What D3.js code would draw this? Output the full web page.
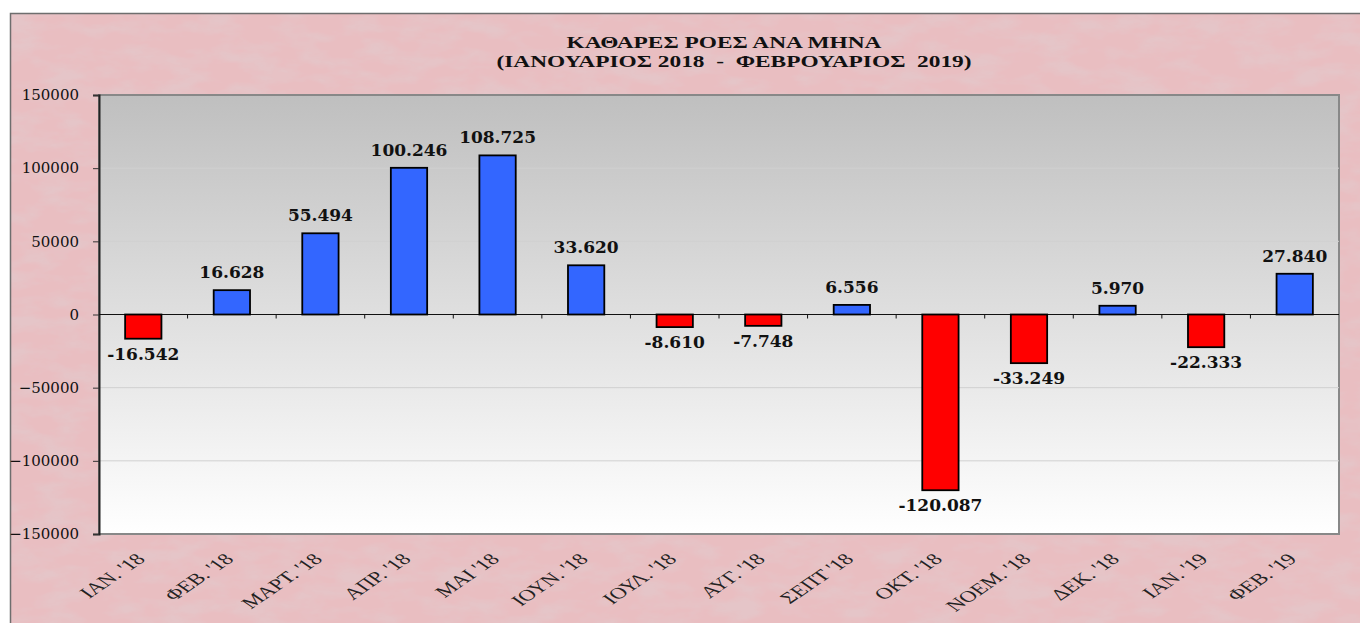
<!DOCTYPE html>
<html>
  <head>
    <meta charset="utf-8">
    <style>
      body { margin: 0; background: #fff; }
    </style>
  </head>
  <body>
    <script src="https://d3js.org/d3.v7.min.js" charset="utf-8"></script>
    <script>
      var months = ["ΙΑΝ. '18", "ΦΕΒ. '18", "ΜΑΡΤ. '18", "ΑΠΡ. '18", "ΜΑΙ '18",
                    "ΙΟΥΝ. '18", "ΙΟΥΛ. '18", "ΑΥΓ. '18", "ΣΕΠΤ '18", "ΟΚΤ. '18",
                    "ΝΟΕΜ. '18", "ΔΕΚ. '18", "ΙΑΝ. '19", "ΦΕΒ. '19"];
      var flows = [-16542, 16628, 55494, 100246, 108725, 33620, -8610,
                   -7748, 6556, -120087, -33249, 5970, -22333, 27840];
      var yTicks = [-150000, -100000, -50000, 0, 50000, 100000, 150000];
      var titleLines = ["ΚΑΘΑΡΕΣ ΡΟΕΣ ΑΝΑ ΜΗΝΑ",
                        "(ΙΑΝΟΥΑΡΙΟΣ 2018  -  ΦΕΒΡΟΥΑΡΙΟΣ  2019)"];

      var W = 1360, H = 623;
      var pL = 99, pR = 1339, pT = 95, pB = 534;
      var stretch = 1.46;   // the original sheet is drawn wider than tall

      var svg = d3.select('body').append('svg')
                  .attr('width', W).attr('height', H);
      var defs = svg.append('defs');

      // pinkish paper texture
      var f = defs.append('filter').attr('id', 'paper')
                  .attr('x', 0).attr('y', 0).attr('width', '100%').attr('height', '100%');
      f.append('feTurbulence').attr('type', 'fractalNoise')
       .attr('baseFrequency', '0.025 0.06').attr('numOctaves', 4).attr('seed', 11)
       .attr('result', 'noise');
      f.append('feColorMatrix').attr('in', 'noise').attr('type', 'matrix')
       .attr('values', '0 0 0 0 0.78  0 0 0 0 0.56  0 0 0 0 0.58  0 0 0 -2.6 1.55')
       .attr('result', 'tint');
      f.append('feComposite').attr('in', 'tint').attr('in2', 'SourceGraphic')
       .attr('operator', 'atop');

      var grad = defs.append('linearGradient').attr('id', 'plotbg')
                     .attr('x1', 0).attr('y1', 0).attr('x2', 0).attr('y2', 1);
      grad.append('stop').attr('offset', '0%').attr('stop-color', '#bfbfbf');
      grad.append('stop').attr('offset', '100%').attr('stop-color', '#ffffff');

      svg.append('rect')
         .attr('x', 10).attr('y', 13).attr('width', W - 10).attr('height', H - 13)
         .attr('fill', '#e9bec1').attr('filter', 'url(#paper)');
      svg.append('path')
         .attr('d', 'M10.5,' + H + 'V13.5H' + W)
         .attr('fill', 'none').attr('stroke', '#6e6e6e').attr('stroke-width', 1.5);

      var x = d3.scaleBand().domain(months).range([pL, pR]).paddingInner(0.59).paddingOuter(0.295);
      var y = d3.scaleLinear().domain([-150000, 150000]).range([pB, pT]);

      svg.append('rect')
         .attr('x', pL).attr('y', pT)
         .attr('width', pR - pL).attr('height', pB - pT)
         .attr('fill', 'url(#plotbg)')
         .attr('stroke', '#888').attr('stroke-width', 2);

      // gridlines
      svg.append('g').selectAll('line')
         .data(yTicks.filter(function (d) { return Math.abs(d) !== 150000 && d !== 0; }))
         .enter().append('line')
         .attr('x1', pL).attr('x2', pR)
         .attr('y1', function (d) { return y(d); })
         .attr('y2', function (d) { return y(d); })
         .attr('stroke', '#d0d0d0').attr('stroke-width', 1);

      // y axis
      var yAxis = svg.append('g').attr('transform', 'translate(' + pL + ',0)')
                     .call(d3.axisLeft(y).tickValues(yTicks).tickSize(6).tickPadding(14)
                             .tickFormat(d3.format('d')));
      yAxis.select('.domain').attr('stroke', '#222').attr('stroke-width', 2);
      yAxis.selectAll('.tick line').attr('stroke', '#333');
      yAxis.selectAll('text')
           .style('font', '15px "DejaVu Serif", serif').attr('fill', '#111');

      // zero line with category ticks
      svg.append('line')
         .attr('x1', pL).attr('x2', pR)
         .attr('y1', y(0)).attr('y2', y(0))
         .attr('stroke', '#111').attr('stroke-width', 1.2);
      var step = x.step();
      svg.append('g').selectAll('line')
         .data(d3.range(1, months.length))
         .enter().append('line')
         .attr('x1', function (i) { return pL + i * step; })
         .attr('x2', function (i) { return pL + i * step; })
         .attr('y1', y(0)).attr('y2', y(0) + 4)
         .attr('stroke', '#111').attr('stroke-width', 1);

      // bars
      svg.append('g').selectAll('rect')
         .data(flows).enter().append('rect')
         .attr('x', function (d, i) { return x(months[i]); })
         .attr('width', x.bandwidth())
         .attr('y', function (d) { return y(Math.max(0, d)); })
         .attr('height', function (d) { return Math.abs(y(d) - y(0)); })
         .attr('fill', function (d) { return d < 0 ? '#ff0000' : '#3366ff'; })
         .attr('stroke', '#000').attr('stroke-width', 1.8);

      // value labels
      var fmt = function (d) {
        return (d < 0 ? '-' : '') + d3.format(',')(Math.abs(d)).replace(/,/g, '.');
      };
      svg.append('g').selectAll('text')
         .data(flows).enter().append('text')
         .attr('x', function (d, i) { return x(months[i]) + x.bandwidth() / 2; })
         .attr('y', function (d) { return d < 0 ? y(d) + 21 : y(d) - 12; })
         .attr('text-anchor', 'middle')
         .attr('fill', '#111')
         .style('font', 'bold 17px "DejaVu Serif", serif')
         .text(fmt);

      // category labels, rotated then stretched like the original
      svg.append('g').selectAll('text')
         .data(months).enter().append('text')
         .attr('transform', function (d) {
           return 'translate(' + (x(d) + x.bandwidth() / 2 + 3) + ',' + (pB + 26) +
                  ') scale(' + stretch + ',1) rotate(-45)';
         })
         .attr('text-anchor', 'end')
         .attr('fill', '#222')
         .style('font', '16px "Liberation Serif", serif')
         .text(function (d) { return d; });

      // title
      var titleX = [724, 734];
      svg.append('g').selectAll('text')
         .data(titleLines).enter().append('text')
         .attr('transform', function (d, i) {
           return 'translate(' + titleX[i] + ',' + (48 + i * 19) + ') scale(' + stretch + ',1)';
         })
         .attr('text-anchor', 'middle')
         .attr('fill', '#111')
         .style('font', 'bold 16px "Liberation Serif", serif')
         .style('white-space', 'pre')
         .text(function (d) { return d; });
    </script>
  </body>
</html>
